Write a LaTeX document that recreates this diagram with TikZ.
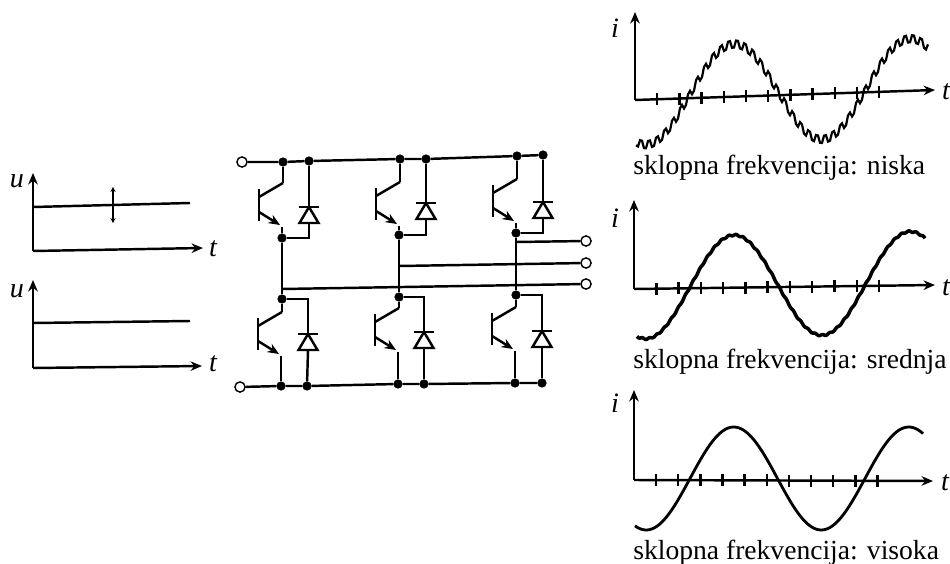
\documentclass[tikz,border=0pt]{standalone}
\usepackage{fontspec}
\setmainfont{Liberation Serif}
\usetikzlibrary{calc,arrows.meta}
\tikzstyle{arrow} = [-{Stealth[length=6.5pt,width=5.4pt]}]
\tikzstyle{wire} = [line width=1.4pt]
\tikzstyle{dot} = [draw,circle,fill=black,inner sep=0pt,minimum size=4.8pt]
\tikzstyle{port} = [draw,circle,fill=white,line width=0.8pt,inner sep=0pt,minimum size=5.8pt]
\tikzstyle{tick} = [line width=1.4pt]
\tikzstyle{lbl} = [font=\fontsize{15.7}{16}\selectfont,anchor=base west,inner sep=0pt]
\tikzstyle{var} = [font=\fontsize{16}{16}\selectfont\itshape,inner sep=0pt]
\newcommand{\igbt}[3]{
    \coordinate (#1-c) at (#2,#3);
    \coordinate (#1-w) at (#2-1,#3+44);
    \draw[wire] (#2-24,#3+6) -- (#2-24,#3+38);
    \draw[wire] (#1-c) -- (#2-24,#3+14);
    \draw[wire,arrow] (#2-24,#3+29) -- (#2-3,#3+42);
}
\newcommand{\diode}[3]{
    \coordinate (#1-k) at (#2,#3);
    \coordinate (#1-a) at (#2,#3+16);
    \draw[wire] (#2-10,#3) -- (#2+10,#3);
    \draw[wire] (#1-k) -- (#2-9.5,#3+16) -- (#2+9.5,#3+16) -- cycle;
}
\begin{document}
\begin{tikzpicture}[x=0.02cm,y=-0.02cm]
    \useasboundingbox (0,0) rectangle (950,564);

    \coordinate (ua0) at (33,251);
    \coordinate (uay) at (33,173);
    \coordinate (uax) at (203,248);
    \coordinate (ual) at (33,207);
    \coordinate (uar) at (190,203);
    \coordinate (uat) at (113,187);
    \coordinate (uab) at (113,223);
    \draw[wire,arrow] (ua0) -- (uay);
    \draw[wire,arrow] (ua0) -- (uax);
    \draw[wire] (ual) -- (uar);
    \draw[{Stealth[length=2.8pt,width=3pt]}-{Stealth[length=2.8pt,width=3pt]},line width=0.8pt] (uab) -- (uat);
    \node[var] at (17,181) (ualabel) {u};
    \node[var] at (213,249) (uatlabel) {t};

    \coordinate (ub0) at (33,368);
    \coordinate (uby) at (33,280);
    \coordinate (ubx) at (202,366);
    \coordinate (ubl) at (33,323);
    \coordinate (ubr) at (190,321);
    \draw[wire,arrow] (ub0) -- (uby);
    \draw[wire,arrow] (ub0) -- (ubx);
    \draw[wire] (ubl) -- (ubr);
    \node[var] at (17,291) (ublabel) {u};
    \node[var] at (213,364) (ubtlabel) {t};

    \node[port] at (242,162) (pp) {};
    \node[dot] at (283,162) (a1) {};
    \node[dot] at (309,161) (b1) {};
    \node[dot] at (400,159) (a2) {};
    \node[dot] at (426,159) (b2) {};
    \node[dot] at (517,156) (a3) {};
    \node[dot] at (543,155) (b3) {};
    \node[dot] at (282,238) (c1) {};
    \node[dot] at (399,235) (c2) {};
    \node[dot] at (516,233) (c3) {};
    \node[dot] at (282,299) (d1) {};
    \node[dot] at (399,297) (d2) {};
    \node[dot] at (516,295) (d3) {};
    \node[port] at (240,387) (pn) {};
    \node[dot] at (281,386) (e1) {};
    \node[dot] at (307,386) (f1) {};
    \node[dot] at (398,384) (e2) {};
    \node[dot] at (424,384) (f2) {};
    \node[dot] at (515,383) (e3) {};
    \node[dot] at (542,383) (f3) {};
    \node[port] at (586,241) (o1) {};
    \node[port] at (586,263) (o2) {};
    \node[port] at (586,284) (o3) {};
    \coordinate (j1) at (516,242);
    \coordinate (j2) at (399,266);
    \coordinate (j3) at (282,289);

    \igbt{q1}{283}{183}
    \igbt{q2}{400}{182}
    \igbt{q3}{517}{179}
    \igbt{q4}{282}{312}
    \igbt{q5}{399}{308}
    \igbt{q6}{516}{307}
    \diode{v1}{309}{207}
    \diode{v2}{426}{203}
    \diode{v3}{543}{202}
    \diode{v4}{308}{334}
    \diode{v5}{424}{332}
    \diode{v6}{542}{331}

    \draw[wire] (pp) -- (a1) -- (b1) -- (a2) -- (b2) -- (a3) -- (b3);
    \draw[wire] (pn) -- (e1) -- (f1) -- (e2) -- (f2) -- (e3) -- (f3);
    \draw[wire] (a1) -- (q1-c);
    \draw[wire] (a2) -- (q2-c);
    \draw[wire] (a3) -- (q3-c);
    \draw[wire] (d1) -- (q4-c);
    \draw[wire] (d2) -- (q5-c);
    \draw[wire] (d3) -- (q6-c);
    \draw[wire] (q1-w) -- (c1);
    \draw[wire] (q2-w) -- (c2);
    \draw[wire] (q3-w) -- (c3);
    \draw[wire] (q4-w) -- (e1);
    \draw[wire] (q5-w) -- (e2);
    \draw[wire] (q6-w) -- (e3);
    \draw[wire] (b1) -- (v1-k);
    \draw[wire] (b2) -- (v2-k);
    \draw[wire] (b3) -- (v3-k);
    \draw[wire] (v1-a) |- (c1);
    \draw[wire] (v2-a) |- (c2);
    \draw[wire] (v3-a) |- (c3);
    \draw[wire] (d1) -| (v4-k);
    \draw[wire] (d2) -| (v5-k);
    \draw[wire] (d3) -| (v6-k);
    \draw[wire] (v4-a) -- (f1);
    \draw[wire] (v5-a) -- (f2);
    \draw[wire] (v6-a) -- (f3);
    \draw[wire] (c1) -- (d1);
    \draw[wire] (c2) -- (d2);
    \draw[wire] (c3) -- (d3);
    \draw[wire] (j1) -- (o1);
    \draw[wire] (j2) -- (o2);
    \draw[wire] (j3) -- (o3);

    \coordinate (ia0) at (635,100);
    \coordinate (iay) at (635,12);
    \coordinate (iax) at (935,90);
    \draw[wire,arrow] (ia0) -- (iay);
    \draw[wire,arrow] (ia0) -- (iax);
    \foreach \n in {1,...,11}
        \draw[tick] ($(ia0)!{\n*0.074}!(iax)$) +(0,-6) -- +(0,6);
    \draw[line width=1.25pt,line join=miter] plot[domain=636:928,samples=147]
        (\x,{93-0.03*(\x-735)-49*sin(2.045*(\x-690))+5*sin(45*(\x-636)+45)});
    \node[var] at (615,28) (ialabel) {i};
    \node[var] at (946,92) (iatlabel) {t};
    \node[lbl] at (633,175) (ianame) {sklopna frekvencija: niska};

    \coordinate (ib0) at (634,289);
    \coordinate (iby) at (634,200);
    \coordinate (ibx) at (935,285);
    \draw[wire,arrow] (ib0) -- (iby);
    \draw[wire,arrow] (ib0) -- (ibx);
    \foreach \n in {1,...,11}
        \draw[tick] ($(ib0)!{\n*0.074}!(ibx)$) +(0,-6) -- +(0,6);
    \draw[line width=2pt,line join=round] plot[domain=637:925,samples=320]
        (\x,{286-0.02*(\x-735)-51*sin(2.045*(\x-690))+0.7*sin(50*(\x-637))});
    \node[var] at (615,218) (iblabel) {i};
    \node[var] at (946,288) (ibtlabel) {t};
    \node[lbl] at (633,368) (ibname) {sklopna frekvencija: srednja};

    \coordinate (ic0) at (634,480);
    \coordinate (icy) at (634,390);
    \coordinate (icx) at (933,481);
    \draw[wire,arrow] (ic0) -- (icy);
    \draw[wire,arrow] (ic0) -- (icx);
    \foreach \n in {1,...,11}
        \draw[tick] ($(ic0)!{\n*0.074}!(icx)$) +(0,-6) -- +(0,6);
    \draw[line width=1.6pt] plot[domain=635:923,samples=120,smooth]
        (\x,{478.5-51.5*sin(2.057*(\x-690))});
    \node[var] at (615,403) (iclabel) {i};
    \node[var] at (945,483) (ictlabel) {t};
    \node[lbl] at (633,559) (icname) {sklopna frekvencija: visoka};
\end{tikzpicture}
\end{document}
